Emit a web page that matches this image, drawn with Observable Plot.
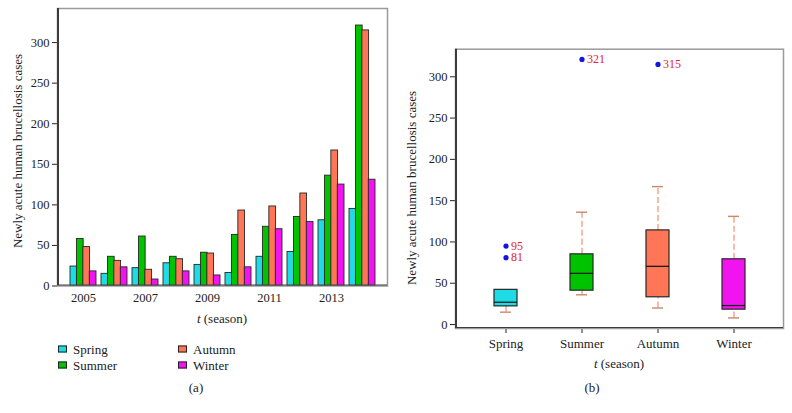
<!DOCTYPE html>
<html><head><meta charset="utf-8">
<script src="https://cdn.jsdelivr.net/npm/d3@7"></script>
<script src="https://cdn.jsdelivr.net/npm/@observablehq/plot@0.6"></script>
<style>
body{margin:0;background:#fff;}
#wrap{position:relative;width:792px;height:413px;font-family:"Liberation Serif","Times New Roman",serif;color:#222;overflow:hidden;}
.abs{position:absolute;white-space:nowrap;font-size:13px;line-height:1;transform:translate(-50%,-50%);}
.rot{transform:translate(-50%,-50%) rotate(-90deg);}
.leg{position:absolute;white-space:nowrap;font-size:13px;line-height:1;transform:translateY(-50%);}
.sw{position:absolute;width:7px;height:5px;border:1px solid #222;transform:translateY(-50%);}
#wrap svg{position:absolute;top:0;}
</style></head><body><div id="wrap"></div>
<script>
const years = [2005, 2006, 2007, 2008, 2009, 2010, 2011, 2012, 2013, 2014];
const seasons = ["Spring", "Summer", "Autumn", "Winter"];
const spring = [24, 15, 22, 28, 26, 16, 36, 42, 81, 95];
const summer = [58, 36, 61, 36, 41, 63, 73, 85, 136, 321];
const autumn = [48, 31, 20, 33, 40, 93, 98, 114, 167, 315];
const winter = [18, 23, 8, 18, 13, 23, 70, 79, 125, 131];
const colors = ["#1edbe6", "#00c300", "#ff7656", "#f214f0"];
const yTicks = [0, 50, 100, 150, 200, 250, 300];
const yearTicks = [2005, 2007, 2009, 2011, 2013];

const seriesValues = [spring, summer, autumn, winter];
const rows = years.flatMap((y, i) => seasons.map((s, j) => ({year: y, season: s, value: seriesValues[j][i]})));

// MATLAB-style percentile
function pct(sorted, p) {
  const n = sorted.length;
  const pos = n * p + 0.5;
  if (pos <= 1) return sorted[0];
  if (pos >= n) return sorted[n - 1];
  const lo = Math.floor(pos), f = pos - lo;
  return sorted[lo - 1] + f * (sorted[lo] - sorted[lo - 1]);
}
const stats = [], outliers = [];
seasons.forEach((s, j) => {
  const v = seriesValues[j].slice().sort((a, b) => a - b);
  const q1 = pct(v, 0.25), q3 = pct(v, 0.75), median = pct(v, 0.5);
  const iqr = q3 - q1;
  const inside = v.filter(d => d >= q1 - 1.5 * iqr && d <= q3 + 1.5 * iqr);
  stats.push({season: s, q1, q3, median, lo: d3.min(inside), hi: d3.max(inside)});
  v.filter(d => d < q1 - 1.5 * iqr || d > q3 + 1.5 * iqr).forEach(d => outliers.push({season: s, value: d}));
});

const font = '"Liberation Serif","Times New Roman",serif';
const bw = 25.7, q = bw / 4;

const plotA = Plot.plot({
  width: 395, height: 413,
  marginLeft: 57, marginRight: 8, marginTop: 8, marginBottom: 127.5,
  style: {fontFamily: font, fontSize: "12.5px", color: "#222", background: "transparent"},
  x: {type: "band", domain: years, paddingInner: 0.174, paddingOuter: 0.39},
  y: {domain: [0, 342]},
  color: {domain: seasons, range: colors},
  marks: [
    Plot.axisY({ticks: yTicks, tickSize: 5, tickPadding: 3, label: null, fontSize: 12.5}),
    Plot.axisX({ticks: yearTicks, tickSize: 0, tickPadding: 7, tickFormat: d => String(d), label: null, fontSize: 12.5}),
    ...seasons.map((s, j) => Plot.barY(rows.filter(r => r.season === s), {
      x: "year", y: "value", fill: "season", stroke: "#262626", strokeWidth: 0.9,
      insetLeft: j * q, insetRight: (3 - j) * q
    })),
    Plot.frame({stroke: "#9a9a9a", strokeWidth: 1.5}),
    Plot.frame({stroke: "#3c3c3c", strokeWidth: 3, insetTop: -600, insetRight: -600, clip: true})
  ]
});

const plotB = Plot.plot({
  width: 396, height: 413,
  marginLeft: 59, marginRight: 9, marginTop: 48.7, marginBottom: 85,
  style: {fontFamily: font, fontSize: "12.5px", color: "#222", background: "transparent"},
  x: {type: "band", domain: seasons, paddingInner: 0.698, paddingOuter: 0.501},
  y: {domain: [-4.8, 333.4]},
  color: {domain: seasons, range: colors},
  marks: [
    Plot.axisY({ticks: yTicks, tickSize: 5, tickPadding: 3, label: null, fontSize: 12.5}),
    Plot.axisX({tickSize: 5, tickPadding: 5, label: null, fontSize: 13}),
    Plot.ruleX(stats, {x: "season", y1: "q3", y2: "hi", stroke: "#f2a083", strokeWidth: 1.4, strokeDasharray: "6,3"}),
    Plot.ruleX(stats, {x: "season", y1: "lo", y2: "q1", stroke: "#f2a083", strokeWidth: 1.4, strokeDasharray: "6,3"}),
    Plot.tickY(stats, {x: "season", y: "hi", stroke: "#c8896a", strokeWidth: 1.4, insetLeft: 6, insetRight: 6}),
    Plot.tickY(stats, {x: "season", y: "lo", stroke: "#c8896a", strokeWidth: 1.4, insetLeft: 6, insetRight: 6}),
    Plot.barY(stats, {x: "season", y1: "q1", y2: "q3", fill: "season", stroke: "#262626", strokeWidth: 1.2}),
    Plot.tickY(stats, {x: "season", y: "median", stroke: "#111", strokeWidth: 1.2}),
    Plot.dot(outliers, {x: "season", y: "value", r: 2.6, fill: "#1414e0"}),
    Plot.text(outliers, {x: "season", y: "value", text: d => String(d.value), dx: 5, textAnchor: "start", fill: "#e0262a", fontSize: 12}),
    Plot.frame({stroke: "#9a9a9a", strokeWidth: 1.5}),
    Plot.frame({stroke: "#3c3c3c", strokeWidth: 3, insetTop: -600, insetRight: -600, clip: true})
  ]
});

const wrap = document.getElementById("wrap");
plotA.style.left = "0px";
plotB.style.left = "396px";
wrap.appendChild(plotA);
wrap.appendChild(plotB);

function addText(html, x, y, cls) {
  const d = document.createElement("div");
  d.className = cls;
  d.style.left = x + "px";
  d.style.top = y + "px";
  d.innerHTML = html;
  wrap.appendChild(d);
}
addText("Newly acute human brucellosis cases", 17, 151, "abs rot");
addText("<i>t</i> (season)", 222, 318, "abs");
addText("(a)", 196, 387, "abs");
addText("Newly acute human brucellosis cases", 411, 188, "abs rot");
addText("<i>t</i> (season)", 619, 363, "abs");
addText("(b)", 592, 387, "abs");

// legend
const legPos = [[58, 349], [58, 365], [178, 349], [178, 365]];
seasons.forEach((s, j) => {
  const [x, y] = legPos[j];
  const sw = document.createElement("div");
  sw.className = "sw";
  sw.style.left = x + "px";
  sw.style.top = y + "px";
  sw.style.background = colors[j];
  wrap.appendChild(sw);
  addText(s, x + 15, y, "leg");
});
</script></body></html>
